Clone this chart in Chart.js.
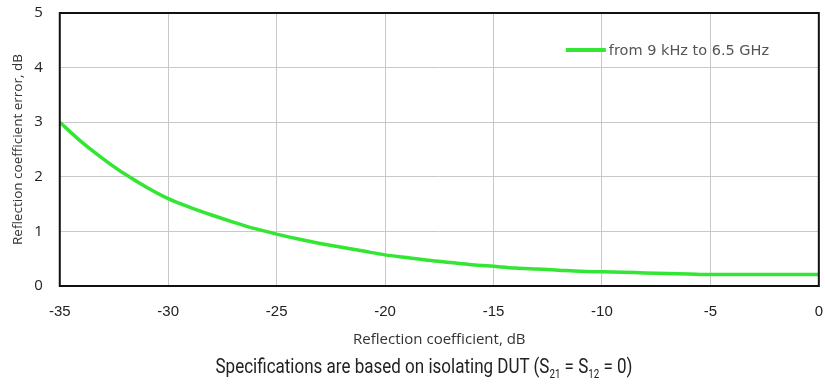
<!DOCTYPE html>
<html>
<head>
<meta charset="utf-8">
<script src="https://cdn.jsdelivr.net/npm/chart.js@4/dist/chart.umd.min.js"></script>
<style>
  body { margin: 0; background: #fff; }
  #wrap { position: relative; width: 825px; height: 392px; overflow: hidden; }
  #caption {
    position: absolute; left: 0; width: 848px; top: 354px; text-align: center;
    font-family: "Roboto", sans-serif; font-size: 21px; color: #222;
    transform: scaleX(0.81); transform-origin: 424px 0;
  }
  #caption sub { font-size: 12px; }
</style>
</head>
<body>
<div id="wrap">
  <canvas id="myChart" width="825" height="392"></canvas>
  <div id="caption">Specifications are based on isolating DUT (S<sub>21</sub> = S<sub>12</sub> = 0)</div>
</div>
<script>
// reflection coefficient, dB
const reflCoef = [-35, -34, -33, -32, -31, -30, -29, -28, -27, -26, -25, -24, -23, -22, -21, -20, -19, -18, -17, -16, -15, -14, -13, -12, -11, -10, -9, -8, -7, -6, -5, -4, -3, -2, -1, 0]
// error, dB
const reflError = [3.0, 2.64, 2.33, 2.05, 1.81, 1.6, 1.44, 1.3, 1.17, 1.05, 0.95, 0.86, 0.78, 0.71, 0.64, 0.57, 0.52, 0.47, 0.43, 0.39, 0.36, 0.33, 0.31, 0.29, 0.27, 0.26, 0.25, 0.24, 0.23, 0.22, 0.21, 0.21, 0.21, 0.21, 0.21, 0.21]
const seriesName = "from 9 kHz to 6.5 GHz"
const xTitle = "Reflection coefficient, dB"
const yTitle = "Reflection coefficient error, dB"

const puntos = reflCoef.map((x, i) => ({ x: x, y: reflError[i] }))

// box round the plot + legend inside the plot
const marcoYLeyenda = {
    id: "marcoYLeyenda",
    afterDraw(chart) {
        const ctx = chart.ctx
        const a = chart.chartArea
        ctx.save()
        ctx.strokeStyle = "#111"
        ctx.lineWidth = 2
        ctx.strokeRect(a.left, a.top, a.right - a.left, a.bottom - a.top)

        const ds = chart.data.datasets[0]
        const lx = a.right - 253
        const ly = a.top + 37
        ctx.strokeStyle = ds.borderColor
        ctx.lineWidth = 4
        ctx.beginPath()
        ctx.moveTo(lx, ly)
        ctx.lineTo(lx + 40, ly)
        ctx.stroke()
        ctx.fillStyle = "#555"
        ctx.font = "14.5px 'DejaVu Sans'"
        ctx.textBaseline = "middle"
        ctx.fillText(ds.label, lx + 43, ly + 1)
        ctx.restore()
    }
}

const ctx = document.getElementById("myChart").getContext("2d")
const myChart = new Chart(ctx, {
    type: "scatter",
    data: {
        datasets: [{
            label: seriesName,
            data: puntos,
            showLine: true,
            borderColor: "#33e633",
            borderWidth: 3.5,
            pointRadius: 0,
            cubicInterpolationMode: "monotone"
        }]
    },
    options: {
        animation: false,
        responsive: false,
        layout: { padding: { top: 13, right: 0, bottom: 43, left: 6 } },
        scales: {
            x: {
                type: "linear",
                min: -35,
                max: 0,
                ticks: { stepSize: 5, padding: 2, color: "#222", font: { family: "Liberation Sans", size: 15 } },
                grid: { color: "#c8c8c8", drawTicks: true, tickLength: 15, tickColor: "rgba(0,0,0,0)" },
                border: { display: false },
                title: { display: true, text: xTitle, color: "#333", padding: { top: 8, bottom: 0 }, font: { family: "Open Sans", size: 15 } }
            },
            y: {
                min: 0,
                max: 5,
                ticks: { stepSize: 1, padding: 2, color: "#222", font: { family: "Open Sans", size: 15 } },
                grid: { color: "#c8c8c8", drawTicks: true, tickLength: 15, tickColor: "rgba(0,0,0,0)" },
                border: { display: false },
                title: { display: true, text: yTitle, color: "#333", padding: { bottom: 6 }, font: { family: "Open Sans", size: 13.5 } }
            }
        },
        plugins: {
            legend: { display: false },
            tooltip: { enabled: false }
        }
    },
    plugins: [marcoYLeyenda]
})
</script>
</body>
</html>
